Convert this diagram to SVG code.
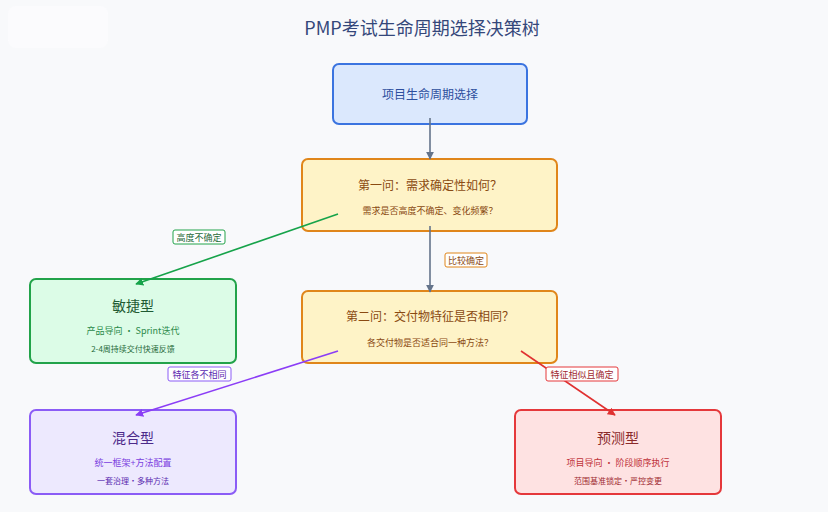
<svg xmlns="http://www.w3.org/2000/svg" width="828" height="512" viewBox="0 0 828 512">
<defs>
<style>
text{font-family:"Noto Sans CJK SC","Noto Sans",sans-serif;text-anchor:middle;dominant-baseline:central}
.t{font-size:18px;fill:#34477a}
.n{stroke-width:2}
.h{font-size:12px}
.s{font-size:9px}
.xs{font-size:8px}
.big{font-size:14px}
.e{fill:none;stroke-width:1.6}
.lb{fill:#fff;stroke-width:1}
.lt{font-size:9px}
</style>
<marker id="ag" viewBox="0 0 10 10" refX="9" refY="5" markerWidth="5" markerHeight="5" orient="auto"><path d="M0,0L10,5L0,10z" fill="#64748b"/></marker>
<marker id="agr" viewBox="0 0 10 10" refX="9" refY="5" markerWidth="5" markerHeight="5" orient="auto"><path d="M0,0L10,5L0,10z" fill="#16a34a"/></marker>
<marker id="apu" viewBox="0 0 10 10" refX="9" refY="5" markerWidth="5" markerHeight="5" orient="auto"><path d="M0,0L10,5L0,10z" fill="#8b3df6"/></marker>
<marker id="are" viewBox="0 0 10 10" refX="9" refY="5" markerWidth="5" markerHeight="5" orient="auto"><path d="M0,0L10,5L0,10z" fill="#e03131"/></marker>
</defs>
<rect width="828" height="512" fill="#f8f9fb"/>
<rect x="8" y="6" width="100" height="42" rx="8" fill="#fcfcfd" opacity="0.7"/>
<text class="t" x="422" y="27">PMP考试生命周期选择决策树</text>

<g id="root">
<rect class="n" x="333" y="64" width="194" height="60" rx="6" fill="#dbe8fd" stroke="#3b74e0"/>
<text class="h" x="430" y="93" fill="#2d4f9e">项目生命周期选择</text>
</g>
<g id="q1">
<rect class="n" x="302" y="159" width="255" height="72" rx="6" fill="#fef3c7" stroke="#e0861a"/>
<text class="h" x="430" y="184" fill="#8a4a12">第一问：需求确定性如何？</text>
<text class="s" x="430" y="210" fill="#8a4a12">需求是否高度不确定、变化频繁？</text>
</g>
<g id="q2">
<rect class="n" x="302" y="291" width="255" height="72" rx="6" fill="#fef3c7" stroke="#e0861a"/>
<text class="h" x="430" y="315" fill="#8a4a12">第二问：交付物特征是否相同？</text>
<text class="s" x="430" y="342" fill="#8a4a12">各交付物是否适合同一种方法？</text>
</g>
<g id="agile">
<rect class="n" x="30" y="279" width="206" height="84" rx="6" fill="#dcfce7" stroke="#22a34a"/>
<text class="big" x="133" y="305" fill="#1f5a33">敏捷型</text>
<text class="s" x="133" y="330" fill="#2a8a4a">产品导向 · Sprint迭代</text>
<text class="xs" x="133" y="348" fill="#1f6a3a">2-4周持续交付快速反馈</text>
</g>
<g id="hybrid">
<rect class="n" x="30" y="410" width="206" height="84" rx="6" fill="#ede9fe" stroke="#8b5cf6"/>
<text class="big" x="133" y="437" fill="#4c2a8a">混合型</text>
<text class="s" x="133" y="462" fill="#7a3ee0">统一框架+方法配置</text>
<text class="xs" x="133" y="480" fill="#5a2ab0">一套治理·多种方法</text>
</g>
<g id="predictive">
<rect class="n" x="515" y="410" width="206" height="84" rx="6" fill="#fee2e2" stroke="#e5383b"/>
<text class="big" x="618" y="437" fill="#8a2a2a">预测型</text>
<text class="s" x="618" y="462" fill="#c0333a">项目导向 · 阶段顺序执行</text>
<text class="xs" x="618" y="480" fill="#a02a30">范围基准锁定·严控变更</text>
</g>

<g id="connectors">
<line class="e" x1="430" y1="118" x2="430" y2="159" stroke="#64748b" marker-end="url(#ag)"/>
<line class="e" x1="430" y1="226" x2="430" y2="292" stroke="#64748b" marker-end="url(#ag)"/>
<line class="e" x1="338" y1="214" x2="136" y2="284" stroke="#16a34a" marker-end="url(#agr)"/>
<line class="e" x1="338" y1="351" x2="136" y2="415" stroke="#8b3df6" marker-end="url(#apu)"/>
<line class="e" x1="521" y1="351" x2="615" y2="415" stroke="#e03131" marker-end="url(#are)"/>
<rect class="lb" x="445" y="253" width="42" height="14" rx="2" stroke="#e0861a"/>
<text class="lt" x="466" y="260" fill="#8a4a12">比较确定</text>
<rect class="lb" x="173" y="230" width="52" height="14" rx="2" stroke="#22a34a"/>
<text class="lt" x="199" y="237" fill="#1f6a3a">高度不确定</text>
<rect class="lb" x="168" y="367" width="63" height="14" rx="2" stroke="#8b5cf6"/>
<text class="lt" x="199.5" y="374" fill="#5a2ab0">特征各不相同</text>
<rect class="lb" x="546" y="367" width="72" height="14" rx="2" stroke="#e5383b"/>
<text class="lt" x="582" y="374" fill="#a02a30">特征相似且确定</text>
</g>
</svg>
